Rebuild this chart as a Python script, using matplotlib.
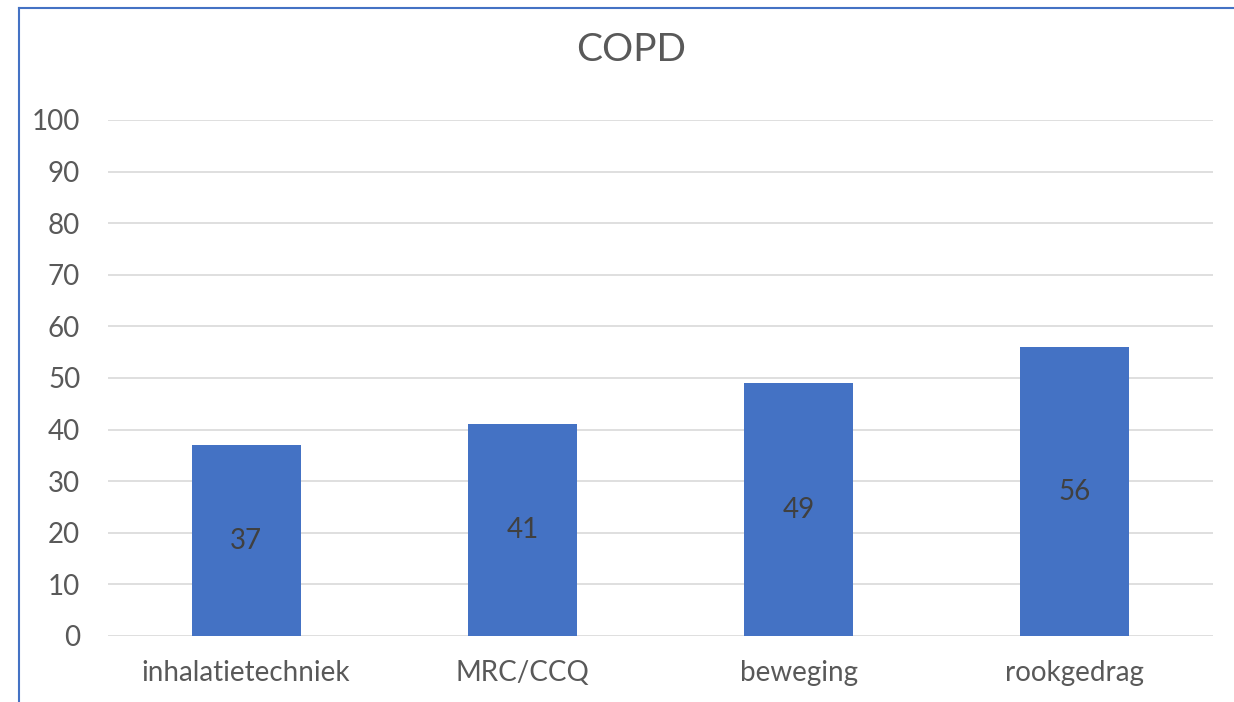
import matplotlib.pyplot as plt
from matplotlib.lines import Line2D

plt.rcParams['font.family'] = ['Lato', 'DejaVu Sans']

# data
categories = ['inhalatietechniek', 'MRC/CCQ', 'beweging', 'rookgedrag']
values = [37, 41, 49, 56]
yticks = [0, 10, 20, 30, 40, 50, 60, 70, 80, 90, 100]

W, H = 1234, 702
fig = plt.figure(figsize=(W / 100, H / 100), dpi=100)
ax = fig.add_axes([108 / W, 1 - 636 / H, (1213 - 108) / W, (636 - 120) / H])

x = range(len(categories))
bars = ax.bar(x, values, width=0.395, color='#4472C4', zorder=3)
for b, v in zip(bars, values):
    ax.text(b.get_x() + b.get_width() / 2, v / 2, str(v), ha='center', va='center',
            fontsize=20, color='#404040', zorder=4)

ax.set_xlim(-0.5, len(categories) - 0.5)
ax.set_ylim(0, 100)
ax.set_yticks(yticks)
ax.set_xticks(list(x))
ax.set_xticklabels(categories)
ax.yaxis.grid(True, color='#D9D9D9', linewidth=1.2, zorder=0)
for s in ax.spines.values():
    s.set_visible(False)
ax.tick_params(axis='both', length=0, labelsize=20, labelcolor='#595959')
ax.tick_params(axis='y', pad=20)
ax.tick_params(axis='x', pad=17)

fig.text(631 / W, 1 - 50 / H, 'COPD', ha='center', va='center', fontsize=28, color='#595959')

# blue frame (top and left)
fig.add_artist(Line2D([18.5 / W, 1], [1 - 8 / H, 1 - 8 / H], color='#4472C4', linewidth=1.5))
fig.add_artist(Line2D([18.5 / W, 18.5 / W], [0, 1 - 8 / H], color='#4472C4', linewidth=1.5))

fig.savefig('out.png', dpi=100)
